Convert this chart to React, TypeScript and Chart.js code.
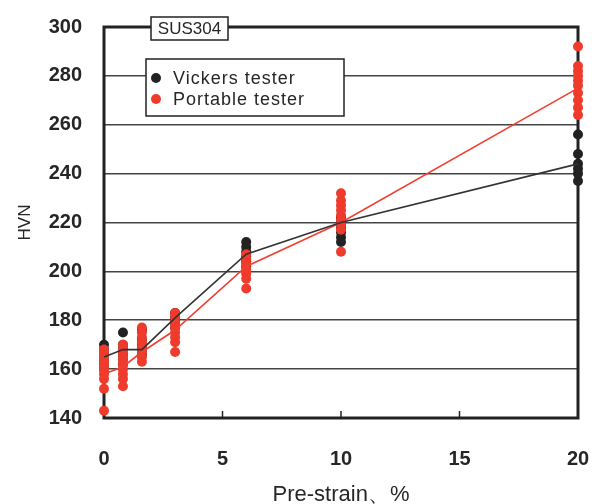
import React, { useEffect, useRef } from "react";
import { Chart, registerables } from "chart.js";
Chart.register(...registerables);

const strains = [0, 0.8, 1.6, 3, 6, 10, 20];
const vickersMean = [165, 168, 168, 181, 207, 220, 244];
const portableMean = [158, 161, 167, 176, 202, 220, 275];
const vickersPoints = [
  [170, 168, 166, 164, 162, 160],
  [175, 170, 168, 166, 164, 162],
  [176, 172, 170, 168, 166],
  [183, 181, 179, 177],
  [212, 210, 208, 206, 204, 202],
  [222, 220, 218, 216, 214, 212],
  [256, 248, 244, 242, 240, 237],
];
const portablePoints = [
  [168, 166, 164, 162, 160, 158, 156, 152, 143],
  [170, 168, 166, 164, 162, 160, 158, 156, 153],
  [177, 175, 173, 171, 169, 167, 165, 163],
  [183, 181, 179, 177, 175, 173, 171, 167],
  [207, 205, 203, 201, 199, 197, 193],
  [232, 229, 227, 225, 223, 221, 219, 217, 208],
  [292, 284, 282, 280, 278, 276, 273, 270, 267, 264],
];
const xTicks = [0, 5, 10, 15, 20];
const yTicks = [140, 160, 180, 200, 220, 240, 260, 280, 300];
const xTitle = "Pre-strain、%";
const yTitle = "HVN";
const boxLabel = "SUS304";
const seriesNames = ["Vickers tester", "Portable tester"];

const BLACK = "#222222";
const RED = "#ef3b2c";
const TEXT = "#262626";
const FONT = "'Liberation Sans', Arial, sans-serif";

const scatterData = (pts: number[][]) =>
  pts.flatMap((col, i) => col.map((v) => ({ x: strains[i], y: v })));
const lineData = (means: number[]) => means.map((v, i) => ({ x: strains[i], y: v }));

const framePlugin = {
  id: "frame",
  beforeDatasetsDraw(chart: any) {
    const { ctx, chartArea, scales } = chart;
    const { left, right, top, bottom } = chartArea;
    ctx.save();
    ctx.strokeStyle = BLACK;
    ctx.lineWidth = 3;
    ctx.strokeRect(left, top, right - left, bottom - top);
    ctx.lineWidth = 1.5;
    xTicks.slice(1, -1).forEach((v) => {
      const px = scales.x.getPixelForValue(v);
      ctx.beginPath();
      ctx.moveTo(px, bottom);
      ctx.lineTo(px, bottom - 7);
      ctx.stroke();
    });
    ctx.restore();
  },
  afterDraw(chart: any) {
    const { ctx, chartArea } = chart;
    const { left, top } = chartArea;
    ctx.save();
    // SUS304 box
    const bx = left + 47, by = top - 10, bw = 77, bh = 23;
    ctx.fillStyle = "#fff";
    ctx.fillRect(bx, by, bw, bh);
    ctx.strokeStyle = BLACK;
    ctx.lineWidth = 1.5;
    ctx.strokeRect(bx, by, bw, bh);
    ctx.fillStyle = TEXT;
    ctx.font = `17px ${FONT}`;
    ctx.textAlign = "center";
    ctx.textBaseline = "middle";
    ctx.fillText(boxLabel, bx + bw / 2, by + bh / 2 + 1);
    // legend
    const lx = left + 42, ly = top + 32, lw = 198, lh = 57;
    ctx.fillStyle = "#fff";
    ctx.fillRect(lx, ly, lw, lh);
    ctx.strokeRect(lx, ly, lw, lh);
    const colors = [BLACK, RED];
    seriesNames.forEach((name, i) => {
      const cy = ly + 19 + i * 21;
      ctx.fillStyle = colors[i];
      ctx.beginPath();
      ctx.arc(lx + 10, cy, 5, 0, Math.PI * 2);
      ctx.fill();
      ctx.fillStyle = TEXT;
      ctx.font = `18px ${FONT}`;
      (ctx as any).letterSpacing = "1px";
      ctx.textAlign = "left";
      ctx.fillText(name, lx + 27, cy + 1);
      (ctx as any).letterSpacing = "0px";
    });
    ctx.restore();
  },
};

const zeroPad = (s: any) => {
  s.paddingLeft = 0;
  s.paddingRight = 0;
  s.paddingTop = 0;
  s.paddingBottom = 0;
};

export default function App() {
  const ref = useRef<HTMLCanvasElement>(null);
  useEffect(() => {
    if (!ref.current) return;
    const chart = new Chart(ref.current, {
      type: "scatter",
      data: {
        datasets: [
          {
            label: seriesNames[0] + " mean",
            data: lineData(vickersMean),
            showLine: true,
            borderColor: "#333333",
            borderWidth: 1.6,
            pointRadius: 0,
            order: 0,
            clip: false,
          } as any,
          {
            label: seriesNames[1] + " mean",
            data: lineData(portableMean),
            showLine: true,
            borderColor: "#f04030",
            borderWidth: 1.6,
            pointRadius: 0,
            order: 1,
            clip: false,
          },
          {
            label: seriesNames[1],
            data: scatterData(portablePoints),
            backgroundColor: RED,
            borderWidth: 0,
            pointRadius: 5,
            order: 2,
            clip: false,
          },
          {
            label: seriesNames[0],
            data: scatterData(vickersPoints),
            backgroundColor: BLACK,
            borderWidth: 0,
            pointRadius: 5,
            order: 3,
            clip: false,
          },
        ],
      },
      options: {
        animation: false,
        responsive: false,
        layout: { padding: { top: 27, right: 19, left: 0, bottom: 0 } },
        plugins: { legend: { display: false }, tooltip: { enabled: false } },
        scales: {
          x: {
            type: "linear",
            min: 0,
            max: 20,
            afterBuildTicks: (s: any) => {
              s.ticks = xTicks.map((v) => ({ value: v }));
            },
            afterFit: (s: any) => {
              s.height = 86;
              zeroPad(s);
            },
            grid: { display: false, drawTicks: false },
            border: { display: false },
            ticks: {
              padding: 29,
              color: TEXT,
              font: { family: FONT, size: 20, weight: "bold" },
              maxRotation: 0,
            },
            title: {
              display: true,
              text: xTitle,
              color: TEXT,
              font: { family: FONT, size: 22 },
              padding: { top: 0, bottom: -4 },
            },
          },
          y: {
            type: "linear",
            min: 140,
            max: 300,
            afterBuildTicks: (s: any) => {
              s.ticks = yTicks.map((v) => ({ value: v }));
            },
            afterFit: (s: any) => {
              s.width = 104;
              zeroPad(s);
            },
            grid: { color: "#444444", lineWidth: 1.6, drawTicks: false },
            border: { display: false },
            ticks: {
              padding: 22,
              color: TEXT,
              font: { family: FONT, size: 20, weight: "bold" },
            },
            title: {
              display: true,
              text: yTitle,
              color: TEXT,
              font: { family: FONT, size: 17 },
              padding: { top: 15, bottom: 0 },
            },
          },
        },
      },
      plugins: [framePlugin],
    });
    return () => chart.destroy();
  }, []);
  return (
    <div style={{ position: "absolute", left: 0, top: 0, width: 597, height: 504, background: "#fff" }}>
      <canvas ref={ref} width={597} height={504} />
    </div>
  );
}
